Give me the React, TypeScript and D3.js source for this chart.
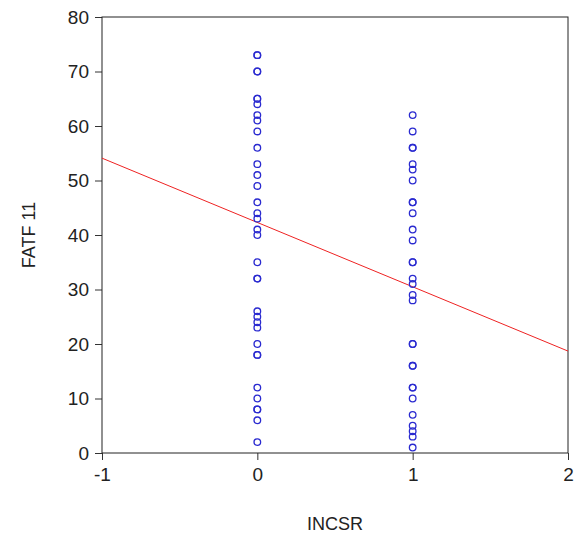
import * as d3 from 'd3';
import { useEffect, useRef } from 'react';

// observed FATF 11 values for INCSR = 0 and INCSR = 1
const group0 = [73, 73, 70, 70, 65, 65, 64, 62, 61, 59, 56, 53, 51, 49, 46, 44, 43, 41, 40, 35, 32, 32, 26, 25, 24, 23, 20, 18, 18, 12, 10, 8, 8, 6, 2];
const group1 = [62, 59, 56, 56, 53, 52, 50, 46, 46, 44, 41, 39, 35, 35, 32, 31, 29, 28, 20, 20, 16, 16, 12, 12, 10, 7, 5, 4, 3, 1];
const xTicks = [-1, 0, 1, 2];
const yTicks = [0, 10, 20, 30, 40, 50, 60, 70, 80];
// fitted line
const intercept = 42.3;
const slope = -11.8;

export default function App() {
    const ref = useRef<SVGSVGElement>(null);

    useEffect(() => {
        const svg = d3.select(ref.current);
        svg.selectAll('*').remove();

        const margin = { top: 17, right: 6, bottom: 86, left: 102 };
        const width = 574 - margin.left - margin.right,
            height = 539 - margin.top - margin.bottom;

        const g = svg.append('g')
            .attr('transform', 'translate(' + margin.left + ',' + margin.top + ')');

        const x = d3.scaleLinear().domain([-1, 2]).range([0, width]);
        const y = d3.scaleLinear().domain([0, 80]).range([height, 0]);

        const font = '"Liberation Sans", Arial, sans-serif';

        // axes
        const xAxis = g.append('g')
            .attr('transform', 'translate(0,' + height + ')')
            .call(d3.axisBottom(x).tickValues(xTicks).tickFormat(d => String(d)).tickSizeOuter(0).tickSize(7).tickPadding(8));
        const yAxis = g.append('g')
            .call(d3.axisLeft(y).tickValues(yTicks).tickFormat(d => String(d)).tickSizeOuter(0).tickSize(7).tickPadding(6));
        [xAxis, yAxis].forEach(a => {
            a.select('.domain').remove();
            a.selectAll('line').attr('stroke', '#333');
            a.selectAll('text')
                .attr('fill', '#222')
                .style('font-family', font)
                .style('font-size', '19px');
        });

        // frame
        g.append('rect')
            .attr('width', width)
            .attr('height', height)
            .attr('fill', 'none')
            .attr('stroke', '#222')
            .attr('stroke-width', 1);

        // fitted line
        g.append('line')
            .attr('x1', x(-1)).attr('y1', y(intercept + slope * -1))
            .attr('x2', x(2)).attr('y2', y(intercept + slope * 2))
            .attr('stroke', '#ee2222')
            .attr('stroke-width', 1);

        // points
        const pts = group0.map(v => ({ x: 0, y: v })).concat(group1.map(v => ({ x: 1, y: v })));
        g.selectAll('circle')
            .data(pts)
            .enter()
            .append('circle')
            .attr('cx', d => x(d.x))
            .attr('cy', d => y(d.y))
            .attr('r', 3.3)
            .attr('fill', 'none')
            .attr('stroke', '#2a2ad0')
            .attr('stroke-width', 1.3);

        // titles
        svg.append('text')
            .attr('x', margin.left + width / 2)
            .attr('y', 530)
            .attr('text-anchor', 'middle')
            .style('font-family', font)
            .style('font-size', '18px')
            .attr('fill', '#222')
            .text('INCSR');
        svg.append('text')
            .attr('transform', 'translate(35,' + (margin.top + height / 2) + ')rotate(-90)')
            .attr('text-anchor', 'middle')
            .style('font-family', font)
            .style('font-size', '18px')
            .attr('fill', '#222')
            .text('FATF 11');
    }, []);

    return (
        <svg ref={ref} width={574} height={539}
            style={{ position: 'absolute', left: 0, top: 0, background: '#fff' }} />
    );
}
